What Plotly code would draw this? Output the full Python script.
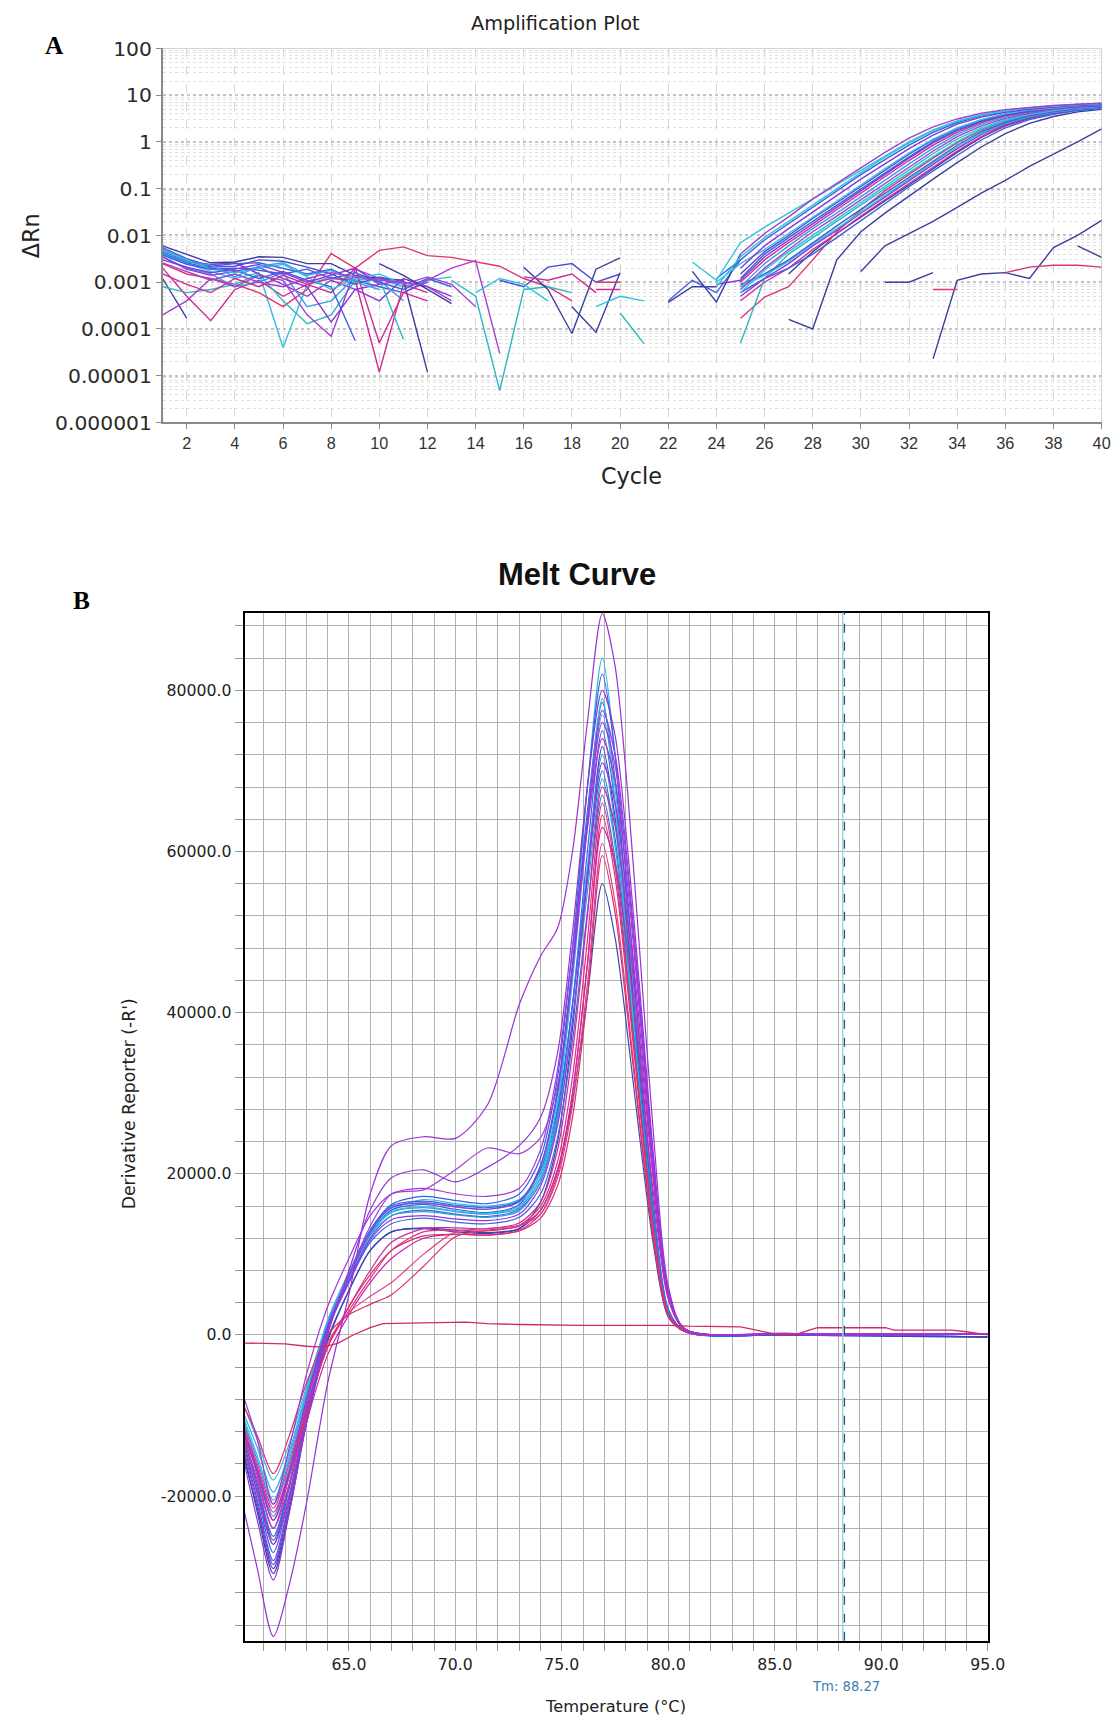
import plotly.graph_objects as go

# ================= A: Amplification plot (delta Rn vs cycle) =================
AMP_X_TICKS = list(range(2, 41, 2))
AMP_Y_TICKVALS = [1e-6, 1e-5, 1e-4, 1e-3, 1e-2, 0.1, 1, 10, 100]
AMP_Y_TICKTEXT = ["0.000001", "0.00001", "0.0001", "0.001", "0.01", "0.1", "1", "10", "100"]

# baseline noise traces (start at cycle 1)
amp_n01 = [0.0055, 0.0032, 0.0022, 0.0025, 0.0026, 0.0020, 0.0015, 0.0019, 0.0011, 0.0008, 0.0006, 0.0010]
amp_n02 = [0.0040, 0.0025, 0.0017, 0.0012, 0.0016, 0.00004, 0.0009, 0.0013, 0.0009, 0.0012, 0.0008, 0.0011, 0.0013]
amp_n03 = [0.0045, 0.0028, 0.0024, 0.0026, 0.0015, 0.0009, 0.0005, 0.0011, 0.0007, 0.0004, 0.0012, 0.0008, 0.0005]
amp_n04 = [0.0020, 0.0005, 0.00015, 0.0007, 0.0011, 0.0005, 0.0009, 0.0012, 0.0011, 0.000012, 0.0009, 0.0006]
amp_n05 = [0.0025, 0.0015, 0.0012, 0.0009, 0.0006, 0.0003, 0.0007, 0.0041, 0.0020, 0.0048, 0.0057, 0.0037,
           0.0034, 0.0027, 0.0022, 0.0012, 0.0008, 0.0004]
amp_n06 = [0.0012, 0.00017]
amp_n07 = [0.0060, 0.0040, 0.0026, 0.0027, 0.0035, 0.0034, 0.0025, 0.0025, 0.0014, 0.0012, 0.0011, 0.000012]
amp_n08 = [0.0035, 0.0020, 0.0015, 0.0008, 0.0010, 0.0016, 0.0003, 0.0004, 0.0013, 0.0011, 0.0004]
amp_n09 = [0.0008, 0.0006, 0.0007, 0.0009, 0.0015, 0.0004, 0.00013, 0.0002, 0.0011, 0.0012, 0.00006]
amp_n10 = [0.0002, 0.0004, 0.0012, 0.0008, 0.0014, 0.0011, 0.0002, 0.00007, 0.0019, 0.0012, 0.0009, 0.0013, 0.0009, 0.0003]
amp_n11 = [0.0042, 0.0026, 0.0020, 0.0018, 0.0012, 0.0017, 0.0011, 0.0008, 0.000056]
amp_n12 = [0.0015, 0.0009, 0.0006, 0.0012, 0.0008, 0.0014, 0.0009, 0.0006, 0.0020, 0.00005, 0.0006, 0.0004]
amp_n13 = [0.0050, 0.0030, 0.0021, 0.0022, 0.0030, 0.0028, 0.0021, 0.0015, 0.0009, 0.0013, 0.0010]
amp_n14 = [0.0035, 0.0019, 0.0014, 0.0017, 0.0021, 0.0012, 0.0008, 0.00014, 0.0007, 0.0009]
amp_n15 = [0.0048, 0.0030, 0.0019, 0.0016, 0.0020, 0.0024, 0.0013, 0.0007, 0.0012, 0.0015, 0.0009]
amp_n16 = [0.0038, 0.0024, 0.0019, 0.0020, 0.0018, 0.0015, 0.0019, 0.0012, 0.0016, 0.0010, 0.0007, 0.0012, 0.0008]
amp_n17 = [0.0030, 0.0021, 0.0016, 0.0019, 0.0024, 0.0016, 0.0010, 0.0014, 0.0020, 0.0009, 0.0011]
amp_n18 = [0.0044, 0.0027, 0.0023, 0.0013, 0.0022, 0.0026, 0.0014, 0.0018, 0.0010, 0.0007]
amp_n19 = [0.0026, 0.0017, 0.0011, 0.0015, 0.0010, 0.0008, 0.0012, 0.0016, 0.0013, 0.0011, 0.0010, 0.0008, 0.0004]

# short fragments (start cycle given separately)
amp_f01_start, amp_f01 = 10, [0.0025, 0.0014, 0.0007, 0.00035]
amp_f02_start, amp_f02 = 11, [0.0006, 0.0011, 0.0020, 0.0029, 0.00003]
amp_f03_start, amp_f03 = 13, [0.0011, 0.0005, 0.0000048, 0.0007, 0.0008, 0.0006]
amp_f04_start, amp_f04 = 16, [0.0021, 0.0007, 0.00008, 0.0019, 0.0033]
amp_f05_start, amp_f05 = 15, [0.0011, 0.0008, 0.0021, 0.0025, 0.0010, 0.0015]
amp_f06_start, amp_f06 = 18, [0.0003, 0.000085, 0.0016]
amp_f07_start, amp_f07 = 19, [0.0007, 0.0007]
amp_f08_start, amp_f08 = 19, [0.0003, 0.0005, 0.0004]
amp_f09_start, amp_f09 = 20, [0.00022, 0.000048]
amp_f10_start, amp_f10 = 22, [0.00037, 0.0008, 0.0008]
amp_f11_start, amp_f11 = 22, [0.0004, 0.0011, 0.0006, 0.0030]
amp_f12_start, amp_f12 = 23, [0.0017, 0.00038, 0.0040]
amp_f13_start, amp_f13 = 14, [0.0006, 0.0012, 0.0009, 0.0004]
amp_f14_start, amp_f14 = 16, [0.0013, 0.0011, 0.0015, 0.0006]
amp_f15_start, amp_f15 = 19, [0.0010, 0.0010]
amp_r01_start, amp_r01 = 33, [0.000023, 0.0011, 0.0015, 0.0016, 0.0012, 0.0055, 0.010, 0.021]
amp_r02_start, amp_r02 = 36, [0.0016, 0.0021, 0.0023, 0.0023, 0.0021]
amp_r03_start, amp_r03 = 33, [0.0007, 0.0007]
amp_r04_start, amp_r04 = 31, [0.0010, 0.0010, 0.0016]
amp_r05_start, amp_r05 = 39, [0.0060, 0.0034]

# amplification curves, cycles 23..40
amp_g01 = [None, None, 0.0040, 0.011, 0.025, 0.060, 0.13, 0.28, 0.60, 1.2, 2.1, 3.1, 4.1, 4.9, 5.5, 6.0, 6.4, 6.7]
amp_g02 = [0.0027, 0.0011, 0.0070, 0.015, 0.030, 0.060, 0.12, 0.25, 0.50, 1.0, 1.8, 2.8, 3.8, 4.7, 5.4, 5.9, 6.3, 6.6]
amp_g03 = [None, 0.0012, 0.0030, 0.0080, 0.018, 0.040, 0.090, 0.20, 0.42, 0.85, 1.6, 2.6, 3.6, 4.5, 5.2, 5.8, 6.2, 6.5]
amp_g04 = [None, None, 0.0020, 0.0060, 0.014, 0.032, 0.070, 0.16, 0.34, 0.72, 1.4, 2.4, 3.4, 4.3, 5.0, 5.6, 6.0, 6.3]
amp_g05 = [None, 0.0010, 0.0025, 0.0050, 0.011, 0.025, 0.055, 0.12, 0.27, 0.58, 1.15, 2.0, 3.0, 4.0, 4.8, 5.4, 5.9, 6.2]
amp_g06 = [None, None, 0.0012, 0.0040, 0.0090, 0.020, 0.045, 0.10, 0.22, 0.48, 1.0, 1.8, 2.8, 3.8, 4.6, 5.3, 5.8, 6.1]
amp_g07 = [None, None, 0.0010, 0.0030, 0.0070, 0.016, 0.036, 0.080, 0.18, 0.40, 0.85, 1.6, 2.6, 3.6, 4.4, 5.1, 5.7, 6.0]
amp_g08 = [None, None, 0.0008, 0.0025, 0.0060, 0.014, 0.030, 0.068, 0.15, 0.34, 0.74, 1.45, 2.4, 3.4, 4.3, 5.0, 5.6, 6.0]
amp_g09 = [None, None, 0.0007, 0.0020, 0.0050, 0.012, 0.026, 0.058, 0.13, 0.29, 0.64, 1.3, 2.2, 3.2, 4.1, 4.9, 5.5, 5.9]
amp_g10 = [None, None, 0.0006, 0.0018, 0.0045, 0.010, 0.022, 0.050, 0.11, 0.25, 0.56, 1.15, 2.0, 3.0, 3.9, 4.7, 5.4, 5.8]
amp_g11 = [None, None, 0.00017, 0.00048, 0.0008, 0.0030, 0.012, 0.035, 0.090, 0.20, 0.45, 0.95, 1.8, 2.8, 3.8, 4.6, 5.3, 5.8]
amp_g12 = [None, None, 0.0009, 0.0015, 0.0030, 0.0070, 0.016, 0.036, 0.080, 0.18, 0.40, 0.85, 1.65, 2.6, 3.6, 4.4, 5.1, 5.6]
amp_g13 = [None, None, 0.0005, 0.0012, 0.0025, 0.0060, 0.013, 0.030, 0.066, 0.15, 0.33, 0.72, 1.45, 2.4, 3.4, 4.2, 5.0, 5.5]
amp_g14 = [None, None, None, None, 0.0015, 0.0045, 0.011, 0.025, 0.055, 0.12, 0.27, 0.60, 1.25, 2.2, 3.2, 4.1, 4.8, 5.3]
amp_g15 = [None, None, 0.0006, 0.0012, 0.0020, 0.0040, 0.0090, 0.021, 0.048, 0.11, 0.24, 0.52, 1.1, 2.0, 3.0, 3.9, 4.7, 5.2]
amp_g16 = [None, None, 0.00005, 0.0012, 0.0040, 0.0090, 0.020, 0.045, 0.10, 0.22, 0.48, 1.0, 1.85, 2.8, 3.7, 4.5, 5.1, 5.5]
amp_g17 = [None, None, None, None, 0.00016, 0.00010, 0.0030, 0.012, 0.030, 0.070, 0.16, 0.36, 0.78, 1.5, 2.5, 3.5, 4.4, 5.0]
amp_g18 = [None, None, None, None, None, None, None, 0.0017, 0.0060, 0.011, 0.020, 0.040, 0.080, 0.15, 0.30, 0.55, 1.0, 1.9]
amp_g19 = [None, None, 0.0015, 0.0045, 0.010, 0.023, 0.050, 0.11, 0.25, 0.55, 1.1, 1.95, 2.95, 3.9, 4.7, 5.4, 5.9, 6.3]
amp_g20 = [None, 0.0009, 0.0011, 0.0035, 0.0080, 0.018, 0.040, 0.090, 0.20, 0.45, 0.95, 1.75, 2.75, 3.7, 4.5, 5.2, 5.7, 6.1]
amp_g21 = [None, None, 0.0008, 0.0014, 0.0028, 0.0065, 0.014, 0.032, 0.070, 0.16, 0.36, 0.78, 1.55, 2.5, 3.5, 4.3, 5.0, 5.5]
amp_g22 = [None, None, 0.0004, 0.0010, 0.0020, 0.0050, 0.011, 0.026, 0.058, 0.13, 0.29, 0.64, 1.3, 2.3, 3.3, 4.1, 4.9, 5.4]
amp_g23 = [None, 0.0008, 0.0035, 0.0090, 0.020, 0.045, 0.10, 0.22, 0.47, 0.95, 1.75, 2.75, 3.75, 4.6, 5.3, 5.9, 6.3, 6.7]
AMP_GROWTH_START = 23

# ================= B: Melt curve (derivative reporter vs temperature) =================
melt_temp = [60.1, 60.7, 61.45, 62.2, 63.0, 64.0, 65.0, 66.0, 67.0, 68.5, 70.0, 71.5, 73.0,
             74.0, 74.8, 75.5, 76.2, 76.9, 77.5, 78.1, 78.7, 79.3, 80.0, 80.8, 85.5, 95.0]
melt_01 = [-22000, -29000, -37400, -31000, -21000, -6000, 5000, 17500, 23500, 24600, 24400, 28500, 41000,
           47000, 50500, 60000, 76000, 89500, 83000, 67000, 46000, 25000, 6000, 700, 200, 100]
melt_02 = [-9000, -13000, -18000, -13500, -6500, 1500, 7000, 12500, 15500, 16800, 16300, 16000, 16800,
           20500, 30000, 46000, 68000, 84000, 72000, 50000, 30000, 13000, 2500, 400, 100, 100]
melt_03 = [-13000, -19000, -26000, -19000, -9000, 1000, 7500, 13000, 16200, 17200, 16700, 16300, 17500,
           22000, 32000, 48000, 68000, 82000, 72000, 54000, 34500, 16400, 3200, 400, 0, 100]
melt_04 = [-16000, -23000, -30400, -22000, -11000, 0, 8000, 15500, 19500, 20500, 19000, 20800, 23500,
           27000, 35000, 50000, 68000, 80000, 74400, 60000, 41600, 22400, 5600, 700, 200, 100]
melt_05 = [-14000, -20500, -28000, -20500, -10000, 500, 7000, 12500, 15500, 16200, 15600, 15200, 16200,
           21000, 30500, 46000, 65000, 78500, 69000, 51800, 33000, 15700, 3100, 400, 0, 100]
melt_06 = [-10000, -14000, -19500, -14500, -7000, 1800, 7800, 13000, 15800, 16400, 15900, 15600, 16500,
           20000, 28500, 44000, 63000, 77000, 67800, 50800, 32300, 15400, 3000, 400, 100, 100]
melt_07 = [-12000, -17500, -24000, -17500, -8500, 1200, 7500, 13500, 17500, 18000, 20500, 23200, 22500,
           24500, 31000, 45000, 63000, 76000, 70700, 57000, 39500, 21300, 5300, 700, 100, 100]
melt_08 = [-12500, -18500, -25500, -18500, -9000, 800, 6800, 12000, 14800, 15500, 15000, 14700, 15600,
           19000, 27000, 41000, 60000, 75000, 66000, 49500, 31500, 15000, 3000, 400, 0, 100]
melt_09 = [-15000, -22000, -29600, -22000, -11000, -500, 5500, 10500, 12800, 13200, 12800, 12600, 13200,
           16500, 24000, 38000, 57000, 73000, 64200, 48200, 30700, 14600, 2900, 400, 0, -300]
melt_10 = [-11000, -15500, -21000, -15500, -7500, 1500, 7200, 12500, 15200, 15800, 15300, 15000, 15800,
           19500, 27500, 41000, 58000, 72000, 63400, 47500, 30200, 14400, 2900, 400, 100, 100]
melt_11 = [-12000, -17000, -23000, -17000, -8000, 1000, 6500, 11800, 14300, 14800, 14400, 14200, 15000,
           18500, 26000, 39000, 56500, 71000, 66000, 53300, 36900, 19900, 5000, 700, 100, 100]
melt_12 = [-13500, -19800, -27000, -19800, -9800, 600, 7300, 13000, 16000, 16600, 16100, 15800, 16700,
           20500, 28000, 41000, 57000, 70000, 61600, 46200, 29400, 14000, 2800, 400, 0, 100]
melt_13 = [-11000, -16500, -22500, -16500, -8000, 1300, 7000, 12300, 14800, 15300, 14900, 14600, 15400,
           19000, 26500, 39000, 55000, 69000, 60700, 45500, 29000, 13800, 2800, 400, 100, 100]
melt_14 = [-12000, -16500, -22000, -17000, -9500, -1500, 3500, 8000, 11500, 13200, 13300, 13200, 13900,
           16500, 23000, 35000, 52000, 68000, 63200, 51000, 35400, 19000, 4800, 600, 100, 100]
melt_15 = [-13000, -18000, -24000, -18500, -10000, -1500, 3000, 7000, 10500, 12800, 13000, 12900, 13600,
           16000, 21500, 32000, 49000, 66000, 58000, 43500, 27700, 13200, 2600, 400, 100, 100]
melt_16 = [-9000, -12500, -17200, -12500, -6000, 0, 2500, 3800, 5000, 8500, 12200, 13000, 13500,
           15500, 20500, 30000, 46000, 64500, 56800, 42600, 27100, 12900, 2600, 400, 100, 100]
melt_17 = [-14000, -19500, -26000, -20000, -11000, -2500, 2500, 6500, 9500, 12000, 12500, 12400, 13000,
           15000, 20000, 30000, 46000, 63000, 58600, 47300, 32800, 17600, 4400, 600, 100, 100]
melt_18 = [-11500, -16000, -21500, -16000, -8500, -1000, 2800, 4800, 6500, 10000, 12800, 13200, 13600,
           15000, 19500, 28500, 43500, 61000, 53700, 40300, 25600, 12200, 2400, 400, 100, 100]
melt_19 = [-12500, -17000, -23000, -17500, -9500, -1500, 3500, 7500, 10500, 12300, 12500, 12400, 12900,
           14500, 18500, 27000, 42000, 59500, 52400, 39300, 25000, 11900, 2400, 400, 100, 100]
melt_20 = [-15500, -21500, -29000, -21500, -11000, -800, 5500, 10500, 12800, 13300, 13000, 12700, 13200,
           15500, 20500, 29000, 42000, 56000, 49300, 37000, 23500, 11200, 2200, 400, 0, -200]
melt_21 = [-8000, -13000, -21000, -14000, -5000, 3500, 9500, 14800, 17500, 18200, 17500, 17200, 18200,
           23000, 33000, 48000, 63000, 74000, 68800, 55500, 38500, 20700, 5200, 700, 100, 100]
melt_22 = [-10500, -15000, -20500, -15000, -7200, 1500, 7500, 12800, 15300, 15900, 15400, 15100, 16000,
           20000, 29000, 45000, 64000, 79000, 66000, 47000, 28500, 12500, 2400, 400, 100, 100]
melt_23 = [-13000, -18500, -25000, -18500, -9300, 500, 6500, 11500, 13800, 14500, 14000, 13800, 14600,
           17500, 24500, 36500, 52500, 67000, 59000, 44200, 28100, 13400, 2700, 400, 0, 100]
melt_24 = [-14500, -21000, -28500, -21000, -10500, 400, 7200, 12800, 15800, 16400, 15900, 15600, 16600,
           21000, 30000, 45500, 64000, 77500, 72000, 58100, 40300, 21700, 5400, 700, 100, 100]

# no-template control (flat line)
melt_flat_temp = [60.1, 62.0, 63.0, 63.8, 64.5, 65.2, 66.0, 66.6, 68.5, 70.5, 71.5, 73.0, 76.0, 80.0, 81.0,
                  83.4, 84.3, 85.2, 85.9, 86.5, 87.0, 90.2, 90.6, 93.3, 94.0, 95.0]
melt_flat = [-1000, -1100, -1400, -1500, -1000, 0, 900, 1400, 1500, 1600, 1400, 1300, 1200, 1200, 1100,
             1000, 500, 0, 0, 500, 900, 900, 600, 600, 400, 0]

MELT_TM = 88.27
MELT_Y_TICKVALS = [-20000, 0, 20000, 40000, 60000, 80000]
MELT_Y_TICKTEXT = ["-20000.0", "0.0", "20000.0", "40000.0", "60000.0", "80000.0"]

# ---------------- styles ----------------
C_BLUE, C_CYAN, C_LBLUE = '#3d5fe0', '#2fc3dd', '#3a9de8'
C_PURPLE, C_VIOLET, C_MAGENTA = '#8a35d8', '#a43fd0', '#d02c95'
C_CRIMSON, C_NAVY, C_TEAL, C_ROYAL = '#e0356d', '#3d3f9c', '#2bb8c0', '#4a4fd4'

AMP_TRACES = [
    (1, amp_n01, C_BLUE), (1, amp_n02, C_CYAN), (1, amp_n03, C_PURPLE), (1, amp_n04, C_MAGENTA),
    (1, amp_n05, C_CRIMSON), (1, amp_n06, C_NAVY), (1, amp_n07, C_NAVY), (1, amp_n08, C_LBLUE),
    (1, amp_n09, C_TEAL), (1, amp_n10, C_VIOLET), (1, amp_n11, C_BLUE), (1, amp_n12, C_MAGENTA),
    (1, amp_n13, C_ROYAL), (1, amp_n14, C_PURPLE), (1, amp_n15, C_CYAN), (1, amp_n16, C_BLUE),
    (1, amp_n17, C_PURPLE), (1, amp_n18, C_LBLUE), (1, amp_n19, C_VIOLET),
    (amp_f01_start, amp_f01, C_NAVY), (amp_f02_start, amp_f02, C_VIOLET), (amp_f03_start, amp_f03, C_TEAL),
    (amp_f04_start, amp_f04, C_NAVY), (amp_f05_start, amp_f05, C_ROYAL), (amp_f06_start, amp_f06, C_NAVY),
    (amp_f07_start, amp_f07, C_MAGENTA), (amp_f08_start, amp_f08, C_CYAN), (amp_f09_start, amp_f09, C_TEAL),
    (amp_f10_start, amp_f10, C_NAVY), (amp_f11_start, amp_f11, C_BLUE), (amp_f12_start, amp_f12, C_NAVY),
    (amp_f13_start, amp_f13, C_CYAN), (amp_f14_start, amp_f14, C_MAGENTA), (amp_f15_start, amp_f15, C_CRIMSON),
    (amp_r01_start, amp_r01, C_NAVY), (amp_r02_start, amp_r02, C_CRIMSON), (amp_r03_start, amp_r03, C_CRIMSON),
    (amp_r04_start, amp_r04, C_NAVY), (amp_r05_start, amp_r05, C_NAVY),
    (AMP_GROWTH_START, amp_g18, C_NAVY), (AMP_GROWTH_START, amp_g17, C_NAVY),
    (AMP_GROWTH_START, amp_g14, C_NAVY), (AMP_GROWTH_START, amp_g11, C_CRIMSON),
    (AMP_GROWTH_START, amp_g22, C_MAGENTA), (AMP_GROWTH_START, amp_g15, C_BLUE),
    (AMP_GROWTH_START, amp_g16, C_TEAL), (AMP_GROWTH_START, amp_g13, C_PURPLE),
    (AMP_GROWTH_START, amp_g21, C_CYAN), (AMP_GROWTH_START, amp_g12, C_BLUE),
    (AMP_GROWTH_START, amp_g10, C_CYAN), (AMP_GROWTH_START, amp_g09, C_VIOLET),
    (AMP_GROWTH_START, amp_g08, C_LBLUE), (AMP_GROWTH_START, amp_g07, C_MAGENTA),
    (AMP_GROWTH_START, amp_g20, C_PURPLE), (AMP_GROWTH_START, amp_g06, C_BLUE),
    (AMP_GROWTH_START, amp_g19, C_ROYAL), (AMP_GROWTH_START, amp_g05, C_CYAN),
    (AMP_GROWTH_START, amp_g04, C_PURPLE), (AMP_GROWTH_START, amp_g03, C_BLUE),
    (AMP_GROWTH_START, amp_g23, C_CYAN), (AMP_GROWTH_START, amp_g02, C_CYAN),
    (AMP_GROWTH_START, amp_g01, C_VIOLET),
]

MELT_TRACES = [
    (melt_02, '#2fb8dc'), (melt_03, '#3060e8'), (melt_05, '#3a58e0'), (melt_06, '#31aee0'),
    (melt_08, '#4060e8'), (melt_09, '#3e3fa8'), (melt_10, '#3390e8'), (melt_12, '#2f6ae6'),
    (melt_13, '#2aa8cc'), (melt_22, '#27c0de'), (melt_23, '#3a66e2'), (melt_20, '#3c48b8'),
    (melt_14, '#c82aa8'), (melt_15, '#e0307f'), (melt_16, '#e03068'), (melt_17, '#cc22b0'),
    (melt_18, '#e04090'), (melt_19, '#dc2f5f'),
    (melt_01, '#9b2fd6'), (melt_04, '#8e3ad0'), (melt_07, '#a040d8'), (melt_11, '#9a30e0'),
    (melt_21, '#a236dc'), (melt_24, '#8f38e4'),
]

# Layout positions are written as target window pixels; the captured page was
# measured to appear scaled by SCALE and shifted by (SHIFT_X, SHIFT_Y), so
# those are undone here.
W, H = 1130, 1744
SCALE, SHIFT_X, SHIFT_Y = 0.986, -1.8, 10.6
FS = 1 / SCALE

fig = go.Figure()

for start, vals, color in AMP_TRACES:
    fig.add_trace(go.Scatter(
        x=list(range(start, start + len(vals))), y=vals, mode='lines',
        line=dict(color=color, width=1.4), connectgaps=False,
        xaxis='x', yaxis='y', showlegend=False, hoverinfo='skip'))

for vals, color in MELT_TRACES:
    assert len(vals) == len(melt_temp)
    fig.add_trace(go.Scatter(
        x=melt_temp, y=vals, mode='lines',
        line=dict(color=color, width=1.2, shape='spline', smoothing=0.8),
        xaxis='x2', yaxis='y2', showlegend=False, hoverinfo='skip'))

fig.add_trace(go.Scatter(
    x=melt_flat_temp, y=melt_flat, mode='lines', line=dict(color='#d02a6a', width=1.3),
    xaxis='x2', yaxis='y2', showlegend=False, hoverinfo='skip'))


def px(x):
    return ((x - SHIFT_X) / SCALE) / W


def py(y):
    return 1 - ((y - SHIFT_Y) / SCALE) / H


fig.update_layout(
    width=W, height=H, autosize=False,
    margin=dict(l=0, r=0, t=0, b=0),
    paper_bgcolor='white', plot_bgcolor='white', showlegend=False,
    xaxis=dict(
        domain=[px(161), px(1101)], anchor='y', range=[1, 40],
        tickmode='array', tickvals=AMP_X_TICKS, ticks='outside', ticklen=5, tickcolor='#888',
        showline=True, linecolor='#8a8a8a', linewidth=1.5,
        showgrid=True, gridcolor='#d6d6d6', griddash='dash', gridwidth=1, zeroline=False,
        tickfont=dict(family='Liberation Sans, Arial', size=16 * FS, color='#333'),
    ),
    yaxis=dict(
        domain=[py(421), py(47)], anchor='x', type='log', range=[-6, 2],
        tickmode='array', tickvals=AMP_Y_TICKVALS, ticktext=AMP_Y_TICKTEXT,
        ticks='outside', ticklen=5, tickcolor='#888',
        showline=True, linecolor='#8a8a8a', linewidth=1.5,
        showgrid=True, gridcolor='#c4c4c4', griddash='dot', gridwidth=1.5, zeroline=False,
        minor=dict(tickmode='linear', dtick='D1', showgrid=True, gridcolor='#e0e0e0',
                   griddash='dot', gridwidth=1, ticks=''),
        tickfont=dict(family='DejaVu Sans', size=20 * FS, color='#2a2a2a'),
    ),
    xaxis2=dict(
        domain=[px(243), px(987)], anchor='y2', range=[60.1, 95.0],
        tickmode='linear', tick0=60, dtick=5, tickformat='.1f',
        ticks='outside', ticklen=8, tickcolor='#999',
        showline=True, linecolor='black', linewidth=2, mirror=True,
        showgrid=True, gridcolor='#b2b2b2', gridwidth=1, zeroline=False,
        minor=dict(tickmode='linear', tick0=60, dtick=1, showgrid=True, gridcolor='#b2b2b2',
                   gridwidth=1, ticks='outside', ticklen=8, tickcolor='#999'),
        tickfont=dict(family='DejaVu Sans', size=15.5 * FS, color='#222'),
    ),
    yaxis2=dict(
        domain=[py(1639), py(611)], anchor='x2', range=[-37950, 89650],
        tickmode='array', tickvals=MELT_Y_TICKVALS, ticktext=MELT_Y_TICKTEXT,
        ticks='outside', ticklen=8, tickcolor='#999',
        showline=True, linecolor='black', linewidth=2, mirror=True,
        showgrid=True, gridcolor='#b2b2b2', gridwidth=1, zeroline=False,
        minor=dict(tickmode='linear', tick0=0, dtick=4000, showgrid=True, gridcolor='#b2b2b2',
                   gridwidth=1, ticks='outside', ticklen=8, tickcolor='#999'),
        tickfont=dict(family='DejaVu Sans', size=15.5 * FS, color='#222'),
    ),
)

# light frame on top/right of amplification plot
fig.add_shape(type='rect', xref='x domain', yref='y domain', x0=0, x1=1, y0=0, y1=1,
              line=dict(color='#cfcfcf', width=1), layer='below')

# Tm marker line
fig.add_shape(type='line', xref='x2', yref='y2 domain', x0=MELT_TM - 0.08, x1=MELT_TM - 0.08, y0=0, y1=1,
              line=dict(color='#9fd6e6', width=1.5))
fig.add_shape(type='line', xref='x2', yref='y2 domain', x0=MELT_TM, x1=MELT_TM, y0=0, y1=1,
              line=dict(color='#2b4f86', width=1.3, dash='dash'))

ann = [
    dict(text='Amplification Plot', x=px(554), y=py(22), font=dict(family='DejaVu Sans', size=19 * FS, color='#222')),
    dict(text='Cycle', x=px(630), y=py(474), font=dict(family='DejaVu Sans', size=22 * FS, color='#222')),
    dict(text='ΔRn', x=px(30), y=py(234), textangle=-90, font=dict(family='DejaVu Sans', size=22 * FS, color='#222')),
    dict(text='<b>A</b>', x=px(53), y=py(44),
         font=dict(family='Liberation Serif, Times New Roman', size=25 * FS, color='black')),
    dict(text='<b>B</b>', x=px(80), y=py(598),
         font=dict(family='Liberation Serif, Times New Roman', size=25 * FS, color='black')),
    dict(text='<b>Melt Curve</b>', x=px(576), y=py(573),
         font=dict(family='Liberation Sans, Arial', size=30.5 * FS, color='#111')),
    dict(text="Derivative Reporter (-R')", x=px(127), y=py(1102), textangle=-90,
         font=dict(family='DejaVu Sans', size=17 * FS, color='#222')),
    dict(text='Temperature (°C)', x=px(614), y=py(1705), font=dict(family='DejaVu Sans', size=16 * FS, color='#222')),
    dict(text='Tm: 88.27', x=px(845), y=py(1685), font=dict(family='DejaVu Sans', size=13 * FS, color='#3a7fb5')),
]
for a in ann:
    fig.add_annotation(xref='paper', yref='paper', showarrow=False, xanchor='center', yanchor='middle', **a)

fig.write_html('out.html')
